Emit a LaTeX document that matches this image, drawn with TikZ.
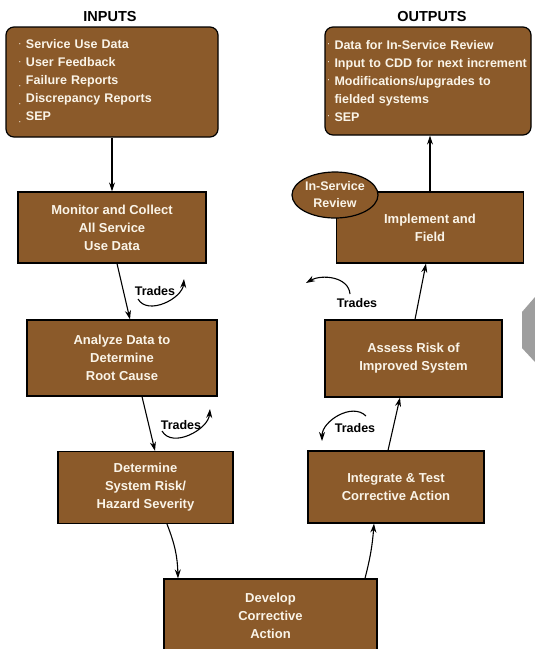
\documentclass[tikz,border=0pt]{standalone}
\usepackage{fontspec}
\setmainfont{Liberation Sans}
\usetikzlibrary{shapes.geometric,arrows.meta}

\definecolor{boxbrown}{RGB}{139,90,42}
\definecolor{boxtext}{RGB}{250,244,232}
\definecolor{tabgray}{RGB}{158,158,158}
\newcommand{\bul}[1][2.5pt]{\makebox[7pt][l]{\raisebox{#1}{\scriptsize·}}}

\tikzset{
  >={Stealth[length=9pt,width=6pt]},
  proc/.style={rectangle,draw=black,line width=1.2pt,fill=boxbrown,text=boxtext,
    font=\fontsize{13}{18}\selectfont\bfseries,align=center,inner sep=0pt},
  lst/.style={proc,rounded corners=8pt,align=left,font=\fontsize{12.5}{18}\selectfont\bfseries},
  head/.style={font=\fontsize{14.5}{16}\selectfont\bfseries},
  trd/.style={font=\fontsize{12.5}{14}\selectfont\bfseries},
  flow/.style={->,line width=1.1pt}
}

\begin{document}
\begin{tikzpicture}[x=1pt,y=1pt]
      \useasboundingbox (0,0) rectangle (535,-649);
      \fill[tabgray] (522,-312) -- (535,-297) -- (535,-362) -- (522,-348) -- cycle;

      \node[head] (hin) at (110,-17) {INPUTS};
      \node[head] (hout) at (432,-17) {OUTPUTS};

      \node[lst,minimum width=212pt,minimum height=110pt,text width=186pt] (inp) at (112,-82)
        {\bul Service Use Data\\ \bul User Feedback\\ \bul[-4pt]Failure Reports\\
         \bul[-4pt]Discrepancy Reports\\ \bul[-4pt]SEP};
      \node[lst,minimum width=206pt,minimum height=108pt,text width=201pt] (outp) at (428,-81)
        {\bul Data for In-Service Review\\ \bul Input to CDD for next increment\\
         \bul Modifications/upgrades to\\ \hspace*{7pt}fielded systems\\ \bul SEP};

      \node[proc,minimum width=188pt,minimum height=71pt] (mon) at (112,-227.5)
        {Monitor and Collect\\All Service\\Use Data};
      \node[proc,minimum width=190pt,minimum height=76pt] (ana) at (122,-358)
        {Analyze Data to\\Determine\\Root Cause};
      \node[proc,minimum width=175pt,minimum height=72pt] (det) at (145.5,-487.5)
        {Determine\\System Risk/\\Hazard Severity};
      \node[proc,minimum width=213pt,minimum height=74pt] (dev) at (270.5,-616)
        {Develop\\Corrective\\Action};
      \node[proc,minimum width=176pt,minimum height=72pt] (int) at (396,-487)
        {Integrate \& Test\\Corrective Action};
      \node[proc,minimum width=177pt,minimum height=77pt] (ass) at (413.5,-358.5)
        {Assess Risk of\\Improved System};
      \node[proc,minimum width=187pt,minimum height=71pt] (imp) at (430,-227.5)
        {Implement and\\Field};
      \node[proc,ellipse,minimum width=86pt,minimum height=46pt,
        font=\fontsize{12.5}{17}\selectfont\bfseries] (rev) at (335,-195) {In-Service\\Review};

      \draw[flow] (inp) -- (mon);
      \draw[flow] ([xshift=5pt]mon.south) -- ([xshift=8pt]ana.north);
      \draw[flow] ([xshift=20pt]ana.south) -- ([xshift=9.5pt]det.north);
      \draw[flow] ([xshift=21.5pt]det.south) to[bend left=10] ([xshift=-92.5pt]dev.north);
      \draw[flow] ([xshift=94.5pt]dev.north) to[bend right=5] ([xshift=-22pt]int.south);
      \draw[flow] ([xshift=-8pt]int.north) -- ([xshift=-13.5pt]ass.south);
      \draw[flow] ([xshift=1.5pt]ass.north) -- ([xshift=-4pt]imp.south);
      \draw[flow] (imp.north) -- (imp.north |- outp.south);

      \node[trd] (t1) at (155,-291) {Trades};
      \node[trd] (t2) at (181,-425) {Trades};
      \node[trd] (t3) at (355,-428) {Trades};
      \node[trd] (t4) at (357,-303) {Trades};

      \coordinate (a1) at (138,-299);
      \coordinate (b1) at (184,-279);
      \coordinate (a2) at (162,-431);
      \coordinate (b2) at (210,-409);
      \coordinate (a3) at (366,-416);
      \coordinate (b3) at (322,-441);
      \coordinate (a4) at (350,-294);
      \coordinate (b4) at (306,-283);

      \draw[flow] (a1) to[out=-60,in=-95] (b1);
      \draw[flow] (a2) to[out=-60,in=-95] (b2);
      \draw[flow] (a3) to[out=135,in=90] (b3);
      \draw[flow] (a4) to[out=95,in=30] (b4);
    \end{tikzpicture}
\end{document}
